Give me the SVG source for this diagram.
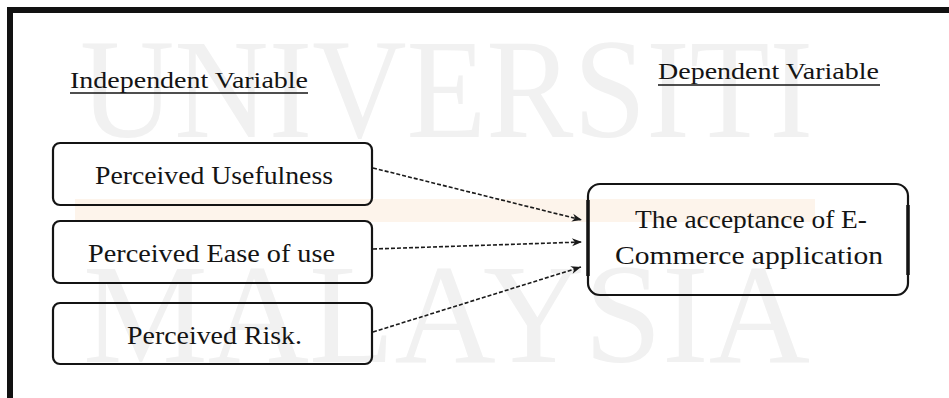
<svg xmlns="http://www.w3.org/2000/svg" width="949" height="398" viewBox="0 0 949 398">
<style>
.wm{font-family:"Liberation Serif","Times New Roman",serif;font-size:142px;fill:#f1f1f1}
.t{font-family:"Liberation Serif","Times New Roman",serif;font-size:25px;fill:#141414}
.hd{font-family:"Liberation Serif","Times New Roman",serif;font-size:24px;fill:#141414}
.ul{stroke:#141414;stroke-width:1.5}
.box{fill:none;stroke:#141414;stroke-width:2.2}
.con{fill:none;stroke:#1a1a1a;stroke-width:1.6;stroke-dasharray:4 2}
</style>
<defs>
<marker id="arr" markerWidth="12" markerHeight="10" refX="11" refY="5" orient="auto" markerUnits="userSpaceOnUse">
<path d="M1,1 L11,5 L1,9 L4,5 Z" fill="#1a1a1a"/>
</marker>
</defs>
<rect width="949" height="398" fill="#ffffff"/>
<g id="background">
<rect x="75" y="199" width="740" height="23" fill="#fdf4eb"/>
<text class="wm" x="80" y="137" textLength="733" lengthAdjust="spacingAndGlyphs">UNIVERSITI</text>
<text class="wm" x="83" y="362" textLength="727" lengthAdjust="spacingAndGlyphs">MALAYSIA</text>
</g>
<g id="frame">
<rect x="7" y="7" width="942" height="6" fill="#111111"/>
<rect x="7" y="7" width="6" height="391" fill="#111111"/>
</g>
<g id="header-independent">
<text class="hd" x="70" y="88" textLength="238" lengthAdjust="spacingAndGlyphs">Independent Variable</text>
<line class="ul" x1="70" y1="93" x2="308" y2="93"/>
</g>
<g id="header-dependent">
<text class="hd" x="658" y="79" textLength="221" lengthAdjust="spacingAndGlyphs">Dependent Variable</text>
<line class="ul" x1="658" y1="85" x2="880" y2="85"/>
</g>
<g id="node-usefulness">
<rect class="box" x="53" y="143" width="319" height="62" rx="7"/>
<text class="t" x="95" y="184" textLength="238" lengthAdjust="spacingAndGlyphs">Perceived Usefulness</text>
</g>
<g id="node-ease">
<rect class="box" x="53" y="221" width="319" height="62" rx="7"/>
<text class="t" x="88" y="262" textLength="247" lengthAdjust="spacingAndGlyphs">Perceived Ease of use</text>
</g>
<g id="node-risk">
<rect class="box" x="53" y="303" width="319" height="61" rx="7"/>
<text class="t" x="127" y="344" textLength="175" lengthAdjust="spacingAndGlyphs">Perceived Risk.</text>
</g>
<g id="node-acceptance">
<rect class="box" x="588" y="184" width="320" height="111" rx="12"/>
<line x1="588" y1="200" x2="588" y2="276" stroke="#141414" stroke-width="3.5"/>
<line x1="908" y1="205" x2="908" y2="275" stroke="#141414" stroke-width="3.5"/>
<text class="t" x="635" y="228" textLength="232" lengthAdjust="spacingAndGlyphs">The acceptance of E-</text>
<text class="t" x="615" y="264" textLength="268" lengthAdjust="spacingAndGlyphs">Commerce application</text>
</g>
<g id="connectors">
<path class="con" d="M373,168 L582,220" marker-end="url(#arr)"/>
<path class="con" d="M373,249 L582,242" marker-end="url(#arr)"/>
<path class="con" d="M373,332 L581,267" marker-end="url(#arr)"/>
</g>
</svg>
